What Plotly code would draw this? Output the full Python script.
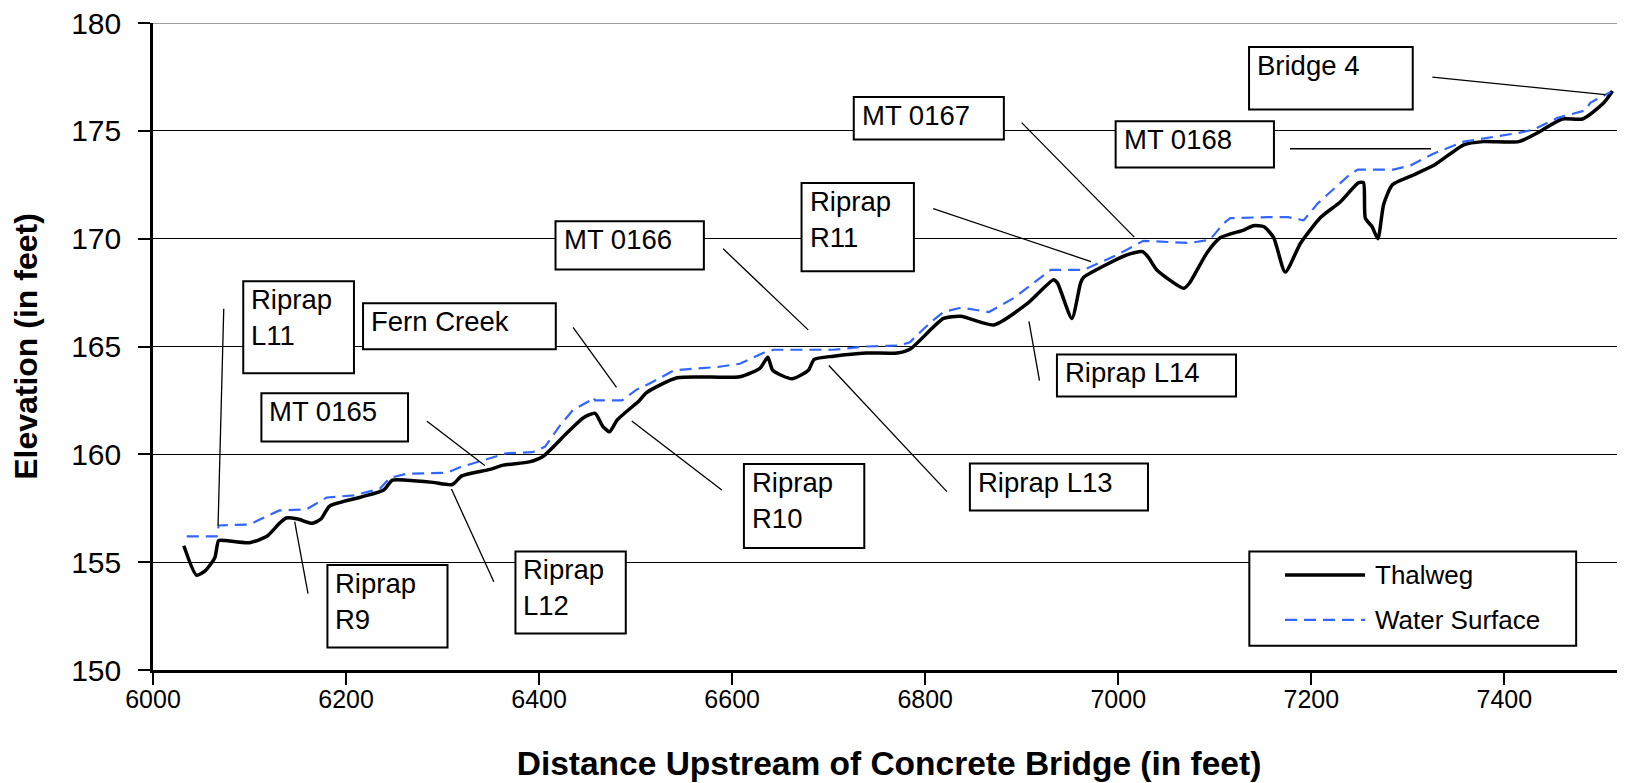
import plotly.graph_objects as go

# Thalweg profile (distance in ft, elevation in ft)
thalweg_x = [6032, 6045, 6054, 6064, 6068, 6075, 6100, 6118, 6131, 6138, 6150, 6165,
             6174, 6183, 6214, 6239, 6248, 6263, 6290, 6310, 6320, 6349, 6363, 6390,
             6404, 6429, 6446, 6458, 6466, 6473, 6481, 6504, 6511, 6543, 6608, 6629,
             6637, 6642, 6662, 6679, 6685, 6705, 6739, 6771, 6785, 6819, 6837, 6871,
             6906, 6933, 6937, 6952, 6961, 6964, 7009, 7025, 7031, 7040, 7068, 7074,
             7092, 7106, 7130, 7140, 7151, 7161, 7173, 7189, 7210, 7230, 7249, 7254,
             7256, 7263, 7269, 7275, 7284, 7303, 7327, 7358, 7378, 7415, 7434, 7460,
             7481, 7503, 7512]
thalweg_y = [155.76, 154.4, 154.6, 155.2, 156.0, 156.0, 155.9, 156.2, 156.8, 157.05, 157.0, 156.8,
             157.0, 157.6, 158.0, 158.35, 158.8, 158.8, 158.7, 158.6, 159.0, 159.3, 159.5, 159.65,
             159.9, 161.0, 161.7, 161.9, 161.3, 161.05, 161.6, 162.5, 162.85, 163.55, 163.6, 164.0,
             164.5, 163.9, 163.5, 163.9, 164.4, 164.55, 164.7, 164.7, 164.9, 166.3, 166.4, 166.0,
             167.0, 168.1, 167.95, 166.3, 167.95, 168.2, 169.25, 169.4, 169.15, 168.55, 167.7, 167.95,
             169.35, 170.05, 170.4, 170.6, 170.55, 170.05, 168.45, 169.8, 171.0, 171.7, 172.6, 172.6,
             170.95, 170.55, 170.0, 171.6, 172.5, 172.9, 173.4, 174.35, 174.5, 174.5, 174.9, 175.55,
             175.55, 176.3, 176.85]

# Water surface profile
water_x = [6035, 6066, 6068, 6090, 6100, 6131, 6159, 6180, 6208, 6235, 6245, 6263,
           6305, 6318, 6346, 6366, 6393, 6406, 6421, 6435, 6451, 6456, 6458, 6486,
           6501, 6515, 6540, 6585, 6608, 6632, 6643, 6705, 6739, 6774, 6784, 6805,
           6819, 6837, 6866, 6892, 6930, 6964, 6999, 7026, 7074, 7095, 7109, 7116,
           7155, 7176, 7192, 7207, 7238, 7248, 7285, 7303, 7327, 7358, 7414, 7430,
           7455, 7484, 7489, 7510]
water_y = [156.2, 156.2, 156.7, 156.75, 156.75, 157.4, 157.45, 158.0, 158.1, 158.4, 158.9, 159.1,
           159.15, 159.4, 159.8, 160.05, 160.1, 160.35, 161.3, 162.05, 162.45, 162.65, 162.5, 162.5,
           163.0, 163.3, 163.9, 164.05, 164.2, 164.7, 164.85, 164.85, 165.0, 165.05, 165.2, 166.1,
           166.6, 166.8, 166.6, 167.25, 168.55, 168.55, 169.25, 169.9, 169.8, 169.95, 170.7, 170.95,
           171.0, 171.0, 170.85, 171.65, 172.9, 173.2, 173.2, 173.4, 173.95, 174.5, 174.9, 175.05,
           175.6, 175.95, 176.3, 176.8]

x_ticks = [6000, 6200, 6400, 6600, 6800, 7000, 7200, 7400]
y_ticks = [150, 155, 160, 165, 170, 175, 180]

# callout boxes: text, box (x0, y_top, x1, y_bottom), leader (x0, y0, x1, y1)
callouts = [
    ("Riprap<br>L11", (6093.5, 168.03, 6208.2, 163.76), (6073.3, 166.75, 6067.4, 156.69)),
    ("Fern Creek", (6217.6, 167.0, 6417.3, 164.87), (6435.2, 165.89, 6480.2, 163.11)),
    ("MT 0165", (6112.3, 162.83, 6264.2, 160.59), (6283.9, 161.53, 6343.7, 159.48)),
    ("Riprap<br>R9", (6180.7, 154.87, 6305.1, 151.04), (6146.8, 156.88, 6160.6, 153.54)),
    ("Riprap<br>L12", (6375.5, 155.5, 6489.8, 151.69), (6309.2, 158.39, 6353.1, 154.09)),
    ("MT 0166", (6417.0, 170.81, 6570.7, 168.57), (6590.7, 169.53, 6678.8, 165.77)),
    ("Riprap<br>R11", (6671.9, 172.58, 6788.3, 168.49), (6808.3, 171.39, 6971.7, 168.94)),
    ("Riprap<br>R10", (6612.2, 159.55, 6736.9, 155.66), (6496.0, 161.55, 6589.3, 158.35)),
    ("Riprap L13", (6846.3, 159.57, 7030.8, 157.39), (6700.2, 164.12, 6822.5, 158.27)),
    ("Riprap L14", (6936.5, 164.63, 7122.0, 162.68), (6907.5, 166.16, 6918.4, 163.42)),
    ("MT 0167", (6726.0, 176.57, 6881.5, 174.60), (6899.9, 175.38, 7016.6, 170.07)),
    ("MT 0168", (6997.3, 175.44, 7161.3, 173.30), (7177.9, 174.17, 7324.0, 174.17)),
    ("Bridge 4", (7135.5, 178.89, 7305.1, 175.99), (7325.4, 177.49, 7504.4, 176.68)),
]

BLUE = "#3366ff"
FONT = "Liberation Sans, Arial, sans-serif"

fig = go.Figure()
fig.add_trace(go.Scatter(x=thalweg_x, y=thalweg_y, mode="lines", name="Thalweg",
                         line=dict(color="black", width=3.5, shape="spline", smoothing=0.6),
                         showlegend=False))
fig.add_trace(go.Scatter(x=water_x, y=water_y, mode="lines", name="Water Surface",
                         line=dict(color=BLUE, width=2.2, dash="12px,7px"),
                         showlegend=False))

# top gridline (plotly drops the one sitting on the plot edge)
shapes = [dict(type="line", xref="paper", yref="y", x0=0, x1=1, y0=180, y1=180,
               line=dict(color="#808080", width=1.3))]
annotations = []
for text, box, lead in callouts:
    shapes.append(dict(type="line", xref="x", yref="y", x0=lead[0], y0=lead[1],
                       x1=lead[2], y1=lead[3], line=dict(color="black", width=1.3)))
    shapes.append(dict(type="rect", xref="x", yref="y", x0=box[0], y0=box[1],
                       x1=box[2], y1=box[3], fillcolor="white",
                       line=dict(color="black", width=2)))
    annotations.append(dict(x=box[0], y=box[1], xref="x", yref="y", text=text,
                            showarrow=False, xanchor="left", yanchor="top", align="left",
                            xshift=6, yshift=-1,
                            font=dict(family=FONT, size=27.5, color="black")))

# legend box drawn by hand
shapes.append(dict(type="rect", xref="x", yref="y", x0=7135.8, y0=155.5, x1=7474.4, y1=151.12,
                   fillcolor="white", line=dict(color="black", width=2)))
shapes.append(dict(type="line", xref="x", yref="y", x0=7172.8, y0=154.40, x1=7255.7, y1=154.40,
                   line=dict(color="black", width=3.5)))
shapes.append(dict(type="line", xref="x", yref="y", x0=7172.8, y0=152.32, x1=7255.7, y1=152.32,
                   line=dict(color=BLUE, width=2.2, dash="12px,7px")))
for label, yy in [("Thalweg", 154.40), ("Water Surface", 152.32)]:
    annotations.append(dict(x=7263.6, y=yy, xref="x", yref="y", text=label, showarrow=False,
                            xanchor="left", yanchor="middle",
                            font=dict(family=FONT, size=26, color="black")))

# page body adds an 8px margin, so the figure is 8px smaller than the window
fig.update_layout(
    width=1617, height=775,
    margin=dict(l=145, r=0, t=15, b=113),
    paper_bgcolor="white", plot_bgcolor="white",
    shapes=shapes, annotations=annotations,
    font=dict(family=FONT, color="black"),
)
fig.update_xaxes(range=[6000, 7525], tickvals=x_ticks, ticks="outside", ticklen=12,
                 tickwidth=1.5, tickcolor="black", showgrid=False, zeroline=False,
                 showline=True, linecolor="black", linewidth=2.5, automargin=False,
                 tickfont=dict(family=FONT, size=25), ticklabelstandoff=-7,
                 ticklabeloverflow="allow",
                 title=dict(text="<b>Distance Upstream of Concrete Bridge (in feet)</b>",
                            font=dict(family=FONT, size=33.5), standoff=40))
fig.update_yaxes(range=[150, 180], tickvals=y_ticks, ticks="outside", ticklen=12,
                 tickwidth=1.5, tickcolor="black", showgrid=True, gridcolor="black",
                 gridwidth=1.3, zeroline=False, showline=True, linecolor="black",
                 linewidth=2.5, automargin=False, tickfont=dict(family=FONT, size=30),
                 ticklabelstandoff=11, ticklabeloverflow="allow",
                 title=dict(text="<b>Elevation (in feet)</b>",
                            font=dict(family=FONT, size=32), standoff=28))

fig.write_html("out.html")
